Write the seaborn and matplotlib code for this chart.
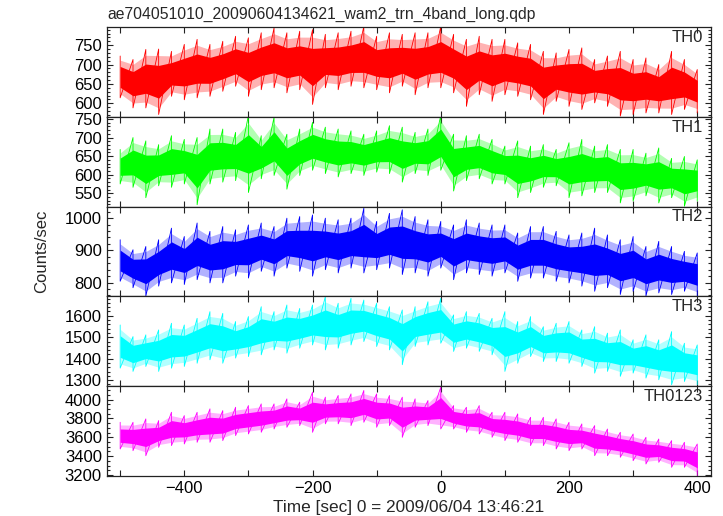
import numpy as np
import pandas as pd
import matplotlib
matplotlib.use("Agg")
import matplotlib.pyplot as plt
import seaborn as sns
from matplotlib.ticker import MultipleLocator

# Time grid (sec) at which the light curve envelopes were read
times = [-500, -480, -460, -440, -420, -400, -380, -360, -340, -320,
         -300, -280, -260, -240, -220, -200, -180, -160, -140, -120,
         -100, -80, -60, -40, -20, 0, 20, 40, 60, 80,
         100, 120, 140, 160, 180, 200, 220, 240, 260, 280,
         300, 320, 340, 360, 380, 400]

# upper / lower extremes of each band (counts/sec)
th0_hi = [722, 713, 739, 740, 734, 752, 765, 752, 760, 773,
          769, 782, 795, 782, 786, 790, 778, 782, 786, 799,
          773, 782, 778, 782, 782, 799, 778, 765, 773, 765,
          765, 756, 752, 734, 730, 739, 743, 713, 722, 734,
          713, 717, 700, 734, 713, 687]
th0_lo = [614, 588, 588, 571, 618, 609, 614, 618, 631, 644,
          618, 635, 640, 627, 635, 597, 640, 635, 644, 640,
          635, 627, 644, 622, 640, 640, 627, 592, 622, 605,
          622, 618, 609, 571, 605, 592, 584, 601, 592, 567,
          571, 575, 575, 571, 584, 575]

th1_hi = [668, 700, 691, 681, 705, 695, 700, 723, 723, 714,
          760, 705, 755, 709, 723, 741, 728, 723, 718, 709,
          718, 732, 728, 714, 723, 760, 709, 705, 709, 695,
          677, 691, 677, 681, 668, 686, 695, 677, 681, 668,
          668, 658, 672, 644, 649, 640]
th1_lo = [575, 566, 538, 570, 566, 575, 519, 575, 580, 584,
          552, 589, 598, 561, 598, 612, 603, 594, 603, 598,
          607, 603, 580, 603, 598, 612, 556, 584, 589, 575,
          575, 538, 552, 566, 570, 538, 543, 552, 552, 524,
          529, 543, 524, 538, 515, 529]

th2_hi = [933, 902, 912, 933, 969, 943, 985, 959, 974, 964,
          979, 985, 974, 1000, 1005, 1010, 1000, 995, 1000, 1031,
          990, 1015, 1026, 1005, 995, 990, 979, 995, 985, 979,
          979, 954, 974, 974, 959, 948, 954, 969, 948, 933,
          943, 912, 928, 912, 897, 892]
th2_lo = [804, 784, 758, 789, 799, 794, 809, 799, 799, 820,
          814, 835, 820, 845, 835, 820, 840, 830, 845, 830,
          840, 845, 825, 830, 820, 845, 809, 830, 825, 820,
          830, 804, 814, 814, 804, 799, 789, 773, 784, 763,
          773, 758, 768, 763, 773, 758]

th3_hi = [1557, 1503, 1511, 1534, 1565, 1557, 1588, 1619, 1611, 1573,
          1596, 1642, 1619, 1650, 1634, 1650, 1689, 1658, 1681, 1673,
          1658, 1642, 1627, 1642, 1665, 1681, 1604, 1619, 1611, 1588,
          1619, 1573, 1596, 1549, 1565, 1573, 1534, 1549, 1519, 1534,
          1488, 1511, 1488, 1526, 1472, 1464]
th3_lo = [1356, 1341, 1364, 1341, 1356, 1364, 1379, 1395, 1379, 1403,
          1410, 1418, 1441, 1426, 1449, 1464, 1441, 1449, 1464, 1480,
          1457, 1441, 1372, 1457, 1464, 1472, 1434, 1449, 1434, 1418,
          1341, 1379, 1410, 1387, 1387, 1379, 1364, 1333, 1341, 1318,
          1333, 1310, 1302, 1279, 1294, 1279]

th0123_hi = [3759, 3759, 3795, 3777, 3865, 3830, 3865, 3901, 3883, 3918,
             3936, 3954, 3954, 4007, 3972, 4078, 4025, 4043, 4060, 4096,
             4060, 4043, 4025, 4007, 3989, 4131, 3936, 3918, 3936, 3865,
             3865, 3848, 3812, 3812, 3795, 3759, 3742, 3724, 3688, 3653,
             3635, 3600, 3582, 3565, 3547, 3529]
th0123_lo = [3476, 3458, 3405, 3494, 3512, 3529, 3547, 3547, 3565, 3618,
             3635, 3653, 3688, 3706, 3724, 3653, 3742, 3742, 3724, 3759,
             3706, 3724, 3600, 3706, 3724, 3688, 3688, 3653, 3635, 3600,
             3565, 3547, 3512, 3512, 3476, 3458, 3476, 3405, 3405, 3388,
             3352, 3317, 3335, 3282, 3282, 3193]

band_names = ["TH0", "TH1", "TH2", "TH3", "TH0123"]
band_hi = [th0_hi, th1_hi, th2_hi, th3_hi, th0123_hi]
band_lo = [th0_lo, th1_lo, th2_lo, th3_lo, th0123_lo]
colors = ["#ff0000", "#00ff00", "#0000ff", "#00ffff", "#ff00ff"]
ylims = [(565, 797), (514, 756), (757, 1036), (1272, 1690), (3190, 4141)]
major_step = [50, 50, 100, 100, 200]
minor_step = [10, 10, 20, 20, 50]

sns.set_style("ticks")
plt.rcParams["font.family"] = ["Liberation Sans", "DejaVu Sans"]
plt.rcParams["font.size"] = 12

fig, axes = plt.subplots(5, 1, sharex=True, figsize=(7.23, 5.16), dpi=100)
fig.subplots_adjust(left=0.1476, right=0.983, top=0.9477, bottom=0.0775, hspace=0)

t = np.array(times, dtype=float)
for ax, name, hi, lo, col, yl, mj, mn in zip(axes, band_names, band_hi, band_lo,
                                            colors, ylims, major_step, minor_step):
    hi = np.array(hi, dtype=float)
    lo = np.array(lo, dtype=float)
    span = hi - lo
    # light halo like the error bars
    ax.fill_between(t, lo + 0.1 * span, hi - 0.1 * span, color=col, alpha=0.3, lw=0)
    # dense core
    ax.fill_between(t, lo + 0.25 * span, hi - 0.25 * span, color=col, alpha=1.0, lw=0)
    # zig-zag between extremes
    zz = pd.DataFrame({
        "time": np.repeat(t, 2),
        "rate": np.column_stack([hi, lo]).ravel(),
    })
    sns.lineplot(data=zz, x="time", y="rate", sort=False, estimator=None,
                 color=col, lw=0.6, ax=ax)

    ax.set_ylim(*yl)
    ax.set_xlim(-521, 421)
    ax.yaxis.set_major_locator(MultipleLocator(mj))
    ax.yaxis.set_minor_locator(MultipleLocator(mn))
    ax.xaxis.set_major_locator(MultipleLocator(200))
    ax.xaxis.set_minor_locator(MultipleLocator(100))
    ax.tick_params(which="both", direction="in", top=True, right=True,
                   width=0.8, colors="#222222", labelcolor="black", labelsize=12)
    ax.tick_params(which="major", length=4.5)
    ax.tick_params(axis="y", which="minor", length=2.2)
    ax.tick_params(axis="x", which="minor", length=4.5)
    ax.set_xlabel("")
    ax.set_ylabel("")
    for s in ax.spines.values():
        s.set_linewidth(0.9)
        s.set_color("#222222")
    ax.text(0.987, 0.885, name, transform=ax.transAxes, ha="right", va="center",
            fontsize=12)

fig.text(0.148, 0.973, "ae704051010_20090604134621_wam2_trn_4band_long.qdp",
         ha="left", va="center", fontsize=11.3)
fig.text(0.058, 0.513, "Counts/sec", rotation=90, ha="center", va="center", fontsize=12)
fig.text(0.565, 0.016, "Time [sec] 0 = 2009/06/04 13:46:21", ha="center", va="center",
         fontsize=12.4)

fig.savefig("out.png", dpi=100)
